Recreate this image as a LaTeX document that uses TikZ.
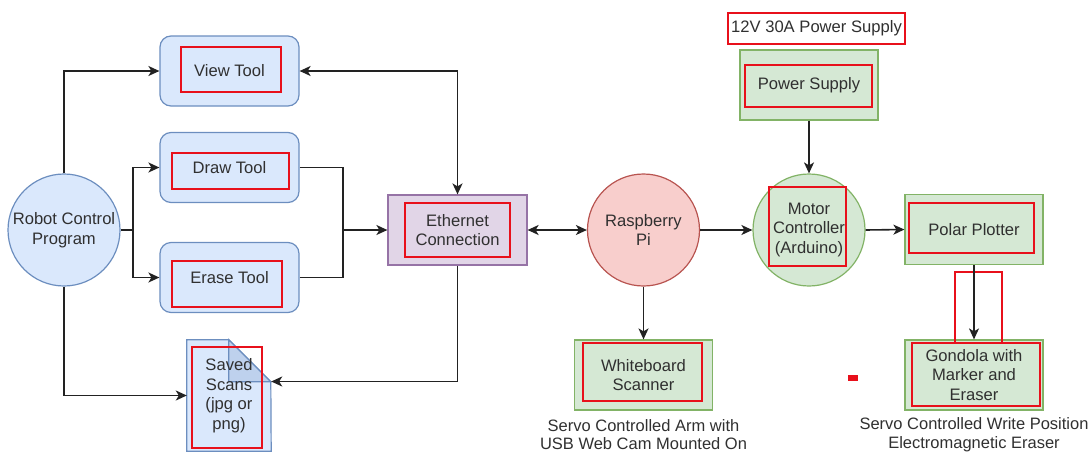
\documentclass[tikz,border=0pt]{standalone}
\usepackage{fontspec}
\setmainfont{Liberation Sans}
\usetikzlibrary{arrows.meta}
\definecolor{toolfill}{HTML}{DAE8FC}
\definecolor{tooledge}{HTML}{6C8EBF}
\definecolor{netfill}{HTML}{E1D5E7}
\definecolor{netedge}{HTML}{9673A6}
\definecolor{hwfill}{HTML}{D5E8D4}
\definecolor{hwedge}{HTML}{82B366}
\definecolor{pifill}{HTML}{F8CECC}
\definecolor{piedge}{HTML}{B85450}
\definecolor{hlred}{HTML}{E8101B}
\definecolor{wire}{HTML}{222222}
\definecolor{txt}{HTML}{303030}

\begin{document}
\begin{tikzpicture}[x=1pt,y=-1pt,
  font=\fontsize{16.6}{19.5}\selectfont, text=txt,
  every node/.style={inner sep=0pt, align=center},
  toolbox/.style={draw=tooledge, fill=toolfill, line width=1.2pt,
    rounded corners=11pt, minimum width=139pt, minimum height=70pt},
  hwbox/.style={draw=hwedge, fill=hwfill, line width=1.2pt,
    minimum width=138pt, minimum height=70pt},
  netbox/.style={draw=netedge, fill=netfill, line width=1.2pt,
    minimum width=139pt, minimum height=70pt},
  ball/.style={circle, line width=1.2pt, minimum size=112pt},
  hl/.style={draw=hlred, line width=2.6pt},
  tip/.tip={Stealth[length=11pt, width=10pt, inset=3pt]},
  wired/.style={draw=wire, line width=1.6pt, -tip},
  caption/.style={font=\fontsize{16.5}{18.5}\selectfont}]
  \useasboundingbox (0,0) rectangle (1091,453);

  % left side: program and its tools
  \node[ball, draw=tooledge, fill=toolfill] (robot) at (64,230) {Robot Control\\Program};
  \node[toolbox] (view) at (229.5,71) {View Tool};
  \node[toolbox] (draw) at (229.5,167.5) {Draw Tool};
  \node[toolbox] (erase) at (229.5,277.5) {Erase Tool};
  \node[minimum width=84pt, minimum height=111pt] (scans) at (229,395.5) {};
  \draw[draw=tooledge, fill=toolfill, line width=1.2pt]
    (scans.north west) -- ++(42,0) -- ++(42,42) -- (scans.south east)
    -- (scans.south west) -- cycle;
  \draw[draw=tooledge, fill=toolfill!75!tooledge, line width=1.2pt]
    ([xshift=42pt]scans.north west) -- ++(0,42) -- ++(42,0) -- cycle;
  \node at (scans) {Saved\\Scans\\(jpg or\\png)};
  \node[netbox] (eth) at (457.5,230) {Ethernet\\Connection};

  % right side: hardware
  \node[ball, draw=piedge, fill=pifill] (pi) at (643.5,230) {Raspberry\\Pi};
  \node[ball, draw=hwedge, fill=hwfill] (motor) at (809,230) {Motor\\Controller\\(Arduino)};
  \node[hwbox] (psu) at (809,85) {Power Supply};
  \node[hl, fill=white, minimum width=177pt, minimum height=31pt] (psulabel) at (816.5,28.5) {12V 30A Power Supply};
  \node[hwbox] (polar) at (974,229.5) {Polar Plotter};
  \node[hwbox] (gondola) at (974,375) {Gondola with\\Marker and\\Eraser};
  \node[hwbox] (scanner) at (643.5,375) {Whiteboard\\Scanner};
  \node[caption] (armnote) at (643.5,434.5) {Servo Controlled Arm with\\USB Web Cam Mounted On};
  \node[caption] (penote) at (974,434.5) {Servo Controlled Write Position\\Electromagnetic Eraser};

  % red marks
  \draw[hl] (181,47) rectangle (281,92);
  \draw[hl] (172,153) rectangle (289,189);
  \draw[hl] (172,261) rectangle (282,307);
  \draw[hl] (192,347) rectangle (262,448);
  \draw[hl] (405,203) rectangle (510,257);
  \draw[hl] (745,65) rectangle (872,107);
  \draw[hl] (769,187) rectangle (846,266);
  \draw[hl] (909,203) rectangle (1034,253);
  \draw[hl] (912,343) rectangle (1040,406);
  \draw[hl] (583,343) rectangle (702,401);
  \draw[hl] (955,272) rectangle (1002,343);
  \fill[hlred] (848,375) rectangle (858,381);

  % connectors
  \coordinate (split) at (133,230);
  \coordinate (join) at (343,230);
  \draw[wired] (robot.north) |- (view.west);
  \draw[wired, -] (robot.east) -- (split);
  \draw[wired] (split) |- (draw.west);
  \draw[wired] (split) |- (erase.west);
  \draw[wired] (robot.south) |- (scans.west);
  \draw[wired, -] (draw.east) -| (join);
  \draw[wired, -] (erase.east) -| (join);
  \draw[wired] (join) -- (eth.west);
  \draw[wired, tip-tip] (view.east) -| (eth.north);
  \draw[wired] (eth.south) |- ([yshift=14pt]scans.east);
  \draw[wired, tip-tip] (eth.east) -- (pi.west);
  \draw[wired] (pi.east) -- (motor.west);
  \draw[wired] (psu.south) -- (motor.north);
  \draw[wired] (motor.east) -- (polar.west);
  \draw[wired] (pi.south) -- (scanner.north);
  \draw[wired] (polar.south) -- (gondola.north);
\end{tikzpicture}
\end{document}
